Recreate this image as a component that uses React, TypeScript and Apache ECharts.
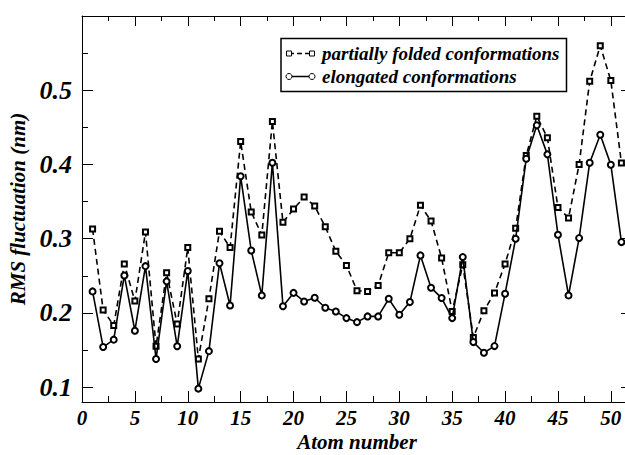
import React, { useEffect, useRef } from 'react';
import * as echarts from 'echarts';

const atomNumbers = [
  1, 2, 3, 4, 5, 6, 7, 8, 9, 10, 11, 12, 13, 14, 15, 16, 17, 18, 19, 20, 21, 22, 23, 24, 25, 26,
  27, 28, 29, 30, 31, 32, 33, 34, 35, 36, 37, 38, 39, 40, 41, 42, 43, 44, 45, 46, 47, 48, 49, 50, 51,
];

const partiallyFolded = [
  0.313, 0.204, 0.183, 0.266, 0.216, 0.309, 0.155, 0.254, 0.185, 0.288, 0.138, 0.219, 0.31, 0.288,
  0.431, 0.336, 0.305, 0.458, 0.322, 0.34, 0.356, 0.344, 0.316, 0.283, 0.264, 0.23, 0.229, 0.237,
  0.281, 0.281, 0.3, 0.345, 0.324, 0.274, 0.202, 0.265, 0.167, 0.203, 0.227, 0.266, 0.314, 0.412,
  0.465, 0.436, 0.342, 0.328, 0.4, 0.512, 0.56, 0.513, 0.402,
];

const elongated = [
  0.229, 0.154, 0.164, 0.2505, 0.176, 0.263, 0.138, 0.2425, 0.155, 0.2565, 0.098, 0.1485, 0.267,
  0.21, 0.384, 0.284, 0.2236, 0.4024, 0.209, 0.227, 0.2155, 0.2205, 0.207, 0.202, 0.193, 0.1876,
  0.1953, 0.1953, 0.219, 0.1976, 0.2146, 0.2775, 0.234, 0.22, 0.193, 0.2752, 0.1607, 0.1464, 0.1553,
  0.2259, 0.3, 0.4078, 0.4527, 0.4136, 0.3054, 0.2236, 0.3008, 0.4024, 0.44, 0.3997, 0.2954,
];

const xMajorTicks = [0, 5, 10, 15, 20, 25, 30, 35, 40, 45, 50];
const xMinorTicks = [2.5, 7.5, 12.5, 17.5, 22.5, 27.5, 32.5, 37.5, 42.5, 47.5];
const yMajorTicks = [0.1, 0.2, 0.3, 0.4, 0.5];
const yMinorTicks = [0.15, 0.25, 0.35, 0.45, 0.55];

const seriesNames = ['partially folded conformations', 'elongated conformations'];
const xName = 'Atom number';
const yName = 'RMS fluctuation (nm)';

const X_MIN = 0;
const X_MAX = 52;
const Y_MIN = 0.08;
const Y_MAX = 0.6;

const FONT = '"Liberation Serif", "Times New Roman", Times, serif';

export default function App() {
  const ref = useRef<HTMLDivElement>(null);

  useEffect(() => {
    document.body.style.margin = '0';
    if (!ref.current) return;
    const chart = echarts.init(ref.current, undefined, { renderer: 'svg' });

    const fontBase = {
      fontFamily: FONT,
      fontWeight: 'bold' as const,
      fontStyle: 'italic' as const,
      color: '#000',
    };

    const gridGeom = {
      left: 82,
      right: -7,
      top: 16,
      bottom: 53,
      containLabel: false,
      outerBoundsMode: 'none',
    };

    const xAx = (
      gridIndex: number,
      position: 'bottom' | 'top',
      ticks: number[],
      len: number,
      withLabel: boolean,
      withLine: boolean
    ): any => ({
      type: 'value',
      gridIndex,
      position,
      min: X_MIN,
      max: X_MAX,
      axisLine: { show: withLine, onZero: false, lineStyle: { color: '#000', width: 1 } },
      axisTick: { show: true, inside: true, length: len, customValues: ticks, lineStyle: { color: '#000', width: 1 } },
      axisLabel: withLabel
        ? { show: true, customValues: xMajorTicks, margin: 5, fontSize: 21, lineHeight: 21, ...fontBase }
        : { show: false },
      splitLine: { show: false },
      ...(withLabel
        ? {
            name: xName,
            nameLocation: 'middle',
            nameGap: 29,
            nameMoveOverlap: false,
            nameTextStyle: { fontSize: 21, lineHeight: 22, ...fontBase },
          }
        : {}),
    });

    const yAx = (
      gridIndex: number,
      position: 'left' | 'right',
      ticks: number[],
      len: number,
      withLabel: boolean,
      withLine: boolean
    ): any => ({
      type: 'value',
      gridIndex,
      position,
      min: Y_MIN,
      max: Y_MAX,
      axisLine: { show: withLine, onZero: false, lineStyle: { color: '#000', width: 1 } },
      axisTick: { show: true, inside: true, length: len, customValues: ticks, lineStyle: { color: '#000', width: 1 } },
      axisLabel: withLabel
        ? {
            show: true,
            customValues: yMajorTicks,
            margin: 10,
            fontSize: 26,
            formatter: (v: number) => v.toFixed(1),
            ...fontBase,
          }
        : { show: false },
      splitLine: { show: false },
      ...(withLabel
        ? {
            name: yName,
            nameLocation: 'middle',
            nameGap: 50,
            nameTextStyle: { fontSize: 21, ...fontBase },
          }
        : {}),
    });

    const lx1 = 289;
    const lx2 = 312;
    const ly1 = 53.5;
    const ly2 = 76.5;

    const legendText = {
      fontFamily: FONT,
      fontWeight: 'bold',
      fontStyle: 'italic',
      fontSize: 19,
      fill: '#000',
      textVerticalAlign: 'middle',
      textAlign: 'left',
    };

    chart.setOption({
      animation: false,
      backgroundColor: '#fff',
      grid: [{ ...gridGeom }, { ...gridGeom }],
      xAxis: [
        xAx(0, 'bottom', xMajorTicks, 11, true, true),
        xAx(0, 'top', xMajorTicks, 10, false, true),
        xAx(1, 'bottom', xMinorTicks, 6, false, false),
        xAx(1, 'top', xMinorTicks, 5, false, false),
      ],
      yAxis: [
        yAx(0, 'left', yMajorTicks, 11, true, true),
        yAx(0, 'right', yMajorTicks, 11, false, true),
        yAx(1, 'left', yMinorTicks, 6, false, false),
        yAx(1, 'right', yMinorTicks, 6, false, false),
      ],
      series: [
        {
          name: seriesNames[0],
          type: 'line',
          xAxisIndex: 0,
          yAxisIndex: 0,
          data: atomNumbers.map((a, i) => [a, partiallyFolded[i]]),
          symbol: 'emptyRect',
          symbolSize: 5,
          showAllSymbol: true,
          lineStyle: { color: '#000', width: 1.6, type: [6, 4] },
          itemStyle: { color: '#000', borderWidth: 1 },
          z: 2,
        },
        {
          name: seriesNames[1],
          type: 'line',
          xAxisIndex: 0,
          yAxisIndex: 0,
          data: atomNumbers.map((a, i) => [a, elongated[i]]),
          symbol: 'emptyCircle',
          symbolSize: 6,
          showAllSymbol: true,
          lineStyle: { color: '#000', width: 1.6 },
          itemStyle: { color: '#000', borderWidth: 1 },
          z: 3,
        },
      ],
      graphic: [
        {
          type: 'group',
          z: 100,
          children: [
            {
              type: 'rect',
              shape: { x: 281, y: 38.5, width: 285.5, height: 53 },
              style: { fill: '#fff', stroke: '#000', lineWidth: 1.5 },
            },
            {
              type: 'line',
              shape: { x1: lx1, y1: ly1, x2: lx2, y2: ly1 },
              style: { stroke: '#000', lineWidth: 1.5, lineDash: [5, 3] },
            },
            {
              type: 'rect',
              shape: { x: lx1 - 2.5, y: ly1 - 2.5, width: 5, height: 5 },
              style: { fill: '#fff', stroke: '#000', lineWidth: 1 },
            },
            {
              type: 'rect',
              shape: { x: lx2 - 2.5, y: ly1 - 2.5, width: 5, height: 5 },
              style: { fill: '#fff', stroke: '#000', lineWidth: 1 },
            },
            {
              type: 'text',
              x: 322,
              y: ly1,
              style: { text: seriesNames[0], ...legendText },
            },
            {
              type: 'line',
              shape: { x1: lx1, y1: ly2, x2: lx2, y2: ly2 },
              style: { stroke: '#000', lineWidth: 1.5 },
            },
            {
              type: 'circle',
              shape: { cx: lx1, cy: ly2, r: 3 },
              style: { fill: '#fff', stroke: '#000', lineWidth: 1 },
            },
            {
              type: 'circle',
              shape: { cx: lx2, cy: ly2, r: 3 },
              style: { fill: '#fff', stroke: '#000', lineWidth: 1 },
            },
            {
              type: 'text',
              x: 322,
              y: ly2,
              style: { text: seriesNames[1], ...legendText },
            },
          ],
        },
      ],
    });

    return () => {
      chart.dispose();
    };
  }, []);

  return <div ref={ref} style={{ width: 625, height: 455 }} />;
}
